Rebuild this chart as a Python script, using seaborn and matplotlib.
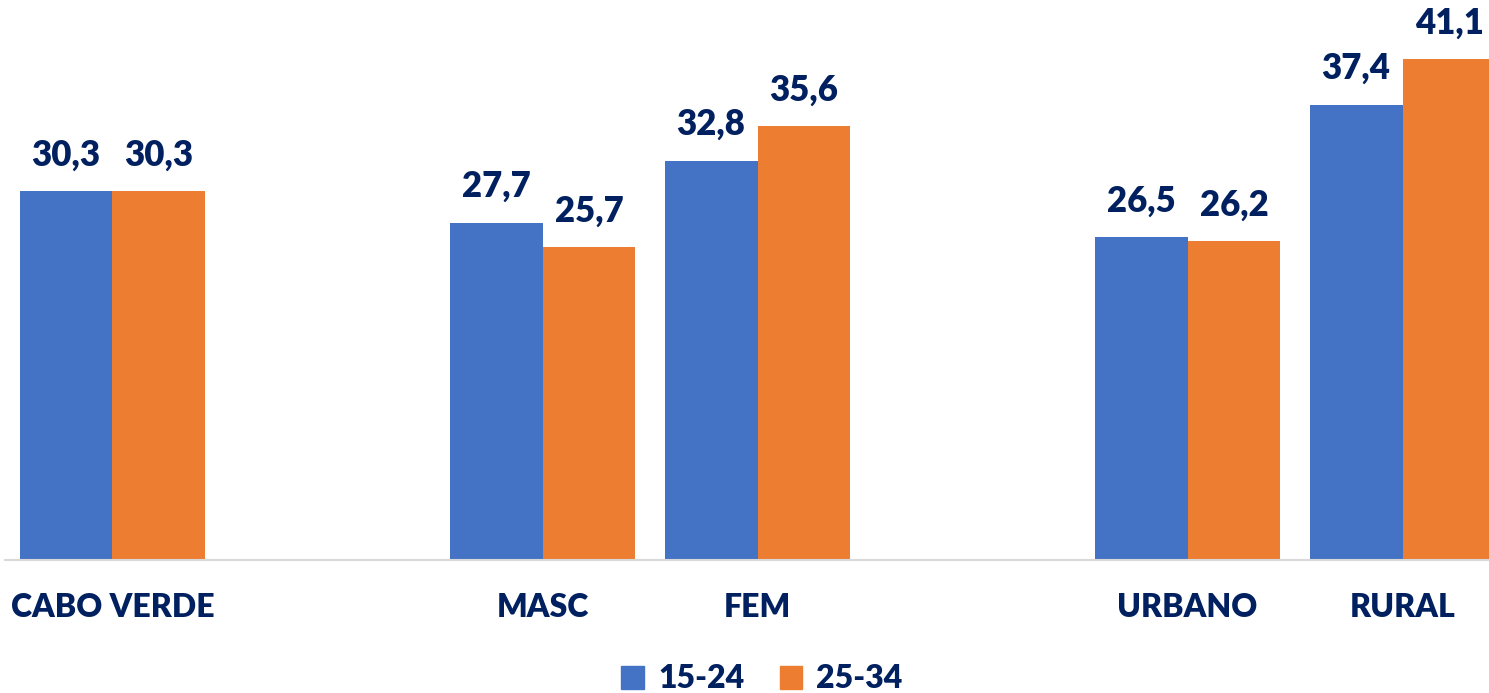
import matplotlib
matplotlib.use("Agg")
import matplotlib.pyplot as plt
import seaborn as sns
import pandas as pd

# Categories (blank slots separate the three groups)
categories = ["CABO VERDE", "MASC", "FEM", "URBANO", "RURAL"]
slot_order = ["CABO VERDE", " ", "MASC", "FEM", "  ", "URBANO", "RURAL"]
age_groups = ["15-24", "25-34"]
values_15_24 = [30.3, 27.7, 32.8, 26.5, 37.4]
values_25_34 = [30.3, 25.7, 35.6, 26.2, 41.1]

colors = ["#4472C4", "#ED7D31"]
text_color = "#002060"
weight = "heavy"

df = pd.DataFrame({
    "cat": categories * 2,
    "grupo": [age_groups[0]] * len(categories) + [age_groups[1]] * len(categories),
    "valor": values_15_24 + values_25_34,
})

sns.set_theme(style="white")
plt.rcParams["font.family"] = ["Lato", "DejaVu Sans"]

W, H = 1489, 693
fig = plt.figure(figsize=(W / 100, H / 100), dpi=100)
ax_left = 5 / W
ax_bottom = 133 / H
ax = fig.add_axes([ax_left, ax_bottom, 1505 / W, 548 / H])

sns.barplot(data=df, x="cat", y="valor", hue="grupo", order=slot_order,
            hue_order=age_groups, palette=colors, width=0.865,
            linewidth=0, saturation=1, ax=ax, legend=True)

ax.set_xlim(-0.5, 6.5)
ax.set_ylim(0, 45)

for cont, vals in zip(ax.containers, [values_15_24, values_25_34]):
    ax.bar_label(cont, labels=[f"{v:.1f}".replace(".", ",") for v in vals],
                 padding=14, fontsize=25, fontweight=weight, color=text_color)

ax.set_xlabel("")
ax.set_ylabel("")
ax.set_yticks([])
ax.tick_params(axis="x", length=0, pad=24)
for lbl in ax.get_xticklabels():
    lbl.set_fontsize(23)
    lbl.set_fontweight(weight)
    lbl.set_color(text_color)

for s in ["top", "right", "left"]:
    ax.spines[s].set_visible(False)
ax.spines["bottom"].set_color("#D9D9D9")
ax.spines["bottom"].set_linewidth(1.5)

ax.get_legend().remove()
handles = [plt.Rectangle((0, 0), 1, 1, color=c) for c in colors]
leg = fig.legend(handles, age_groups, loc="center", bbox_to_anchor=(762 / W, 14 / H),
                 ncol=2, frameon=False, handlelength=0.7, handleheight=0.7,
                 handletextpad=0.45, columnspacing=1.1,
                 prop={"size": 23, "weight": weight})
for t in leg.get_texts():
    t.set_color(text_color)

fig.savefig("out.png", dpi=100)
